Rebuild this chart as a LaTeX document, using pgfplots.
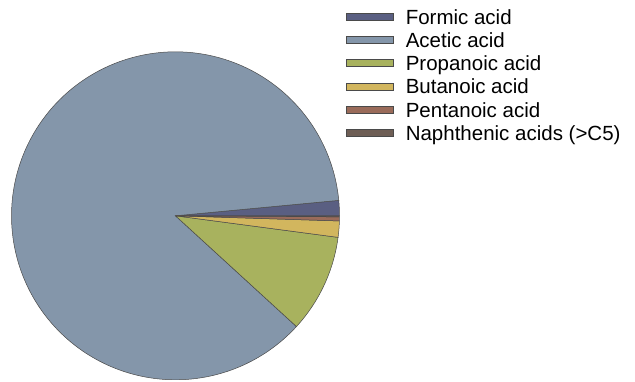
\documentclass[border=0pt]{standalone}
\usepackage{fontspec}
\setmainfont{Liberation Sans}
\usepackage{pgfplots}
\usepackage{pgfplotstable}
\pgfplotsset{compat=1.18}

% shares of the carboxylic acids, in percent
\pgfplotstableread{
acid share
Formic 1.5
Acetic 86.7
Propanoic 9.7
Butanoic 1.6
Pentanoic 0.4
Naphthenic 0.1
}\acidtable

\definecolor{cFormic}{HTML}{5A5F82}
\definecolor{cAcetic}{HTML}{8496AA}
\definecolor{cPropanoic}{HTML}{A8B25E}
\definecolor{cButanoic}{HTML}{D2B65E}
\definecolor{cPentanoic}{HTML}{9A6B5A}
\definecolor{cNaphthenic}{HTML}{6E5E55}
\definecolor{edge}{HTML}{4A4A4A}

% start and end angle of each slice, counterclockwise from 0 degrees
\def\cumangle{0}
\newcommand\sliceangles[2]{%
  \pgfplotstablegetelem{#1}{share}\of\acidtable
  \pgfmathsetmacro\tmpangle{\cumangle+3.6*\pgfplotsretval}%
  \expandafter\let\csname start#2\endcsname\cumangle
  \expandafter\let\csname end#2\endcsname\tmpangle
  \let\cumangle\tmpangle}
\sliceangles{0}{Formic}
\sliceangles{1}{Acetic}
\sliceangles{2}{Propanoic}
\sliceangles{3}{Butanoic}
\sliceangles{4}{Pentanoic}
\sliceangles{5}{Naphthenic}

\newcommand\lstrut{\rule[-1.5pt]{0pt}{17.5pt}}

\begin{document}
\begin{tikzpicture}
\useasboundingbox (0pt,0pt) rectangle (635pt,-381pt);
\begin{axis}[
  at={(175.5pt,-215.8pt)}, anchor=center,
  x=164pt, y=164pt,
  xmin=-1, xmax=1, ymin=-1, ymax=1,
  hide axis,
  slice/.style={draw=edge, line width=0.5pt, samples=60},
  legend image code/.code={
    \draw[#1, draw=edge, line width=0.8pt] (0pt,-3.5pt) rectangle (47pt,3.5pt);
  },
  legend style={
    at={(1.0213,1.1328)}, anchor=north west,
    draw=none, fill=none, inner sep=0pt, outer sep=0pt,
    row sep=5.7pt, column sep=11.5pt,
    nodes={inner sep=0pt, outer sep=0pt, anchor=west},
    font=\fontsize{20.5}{23}\selectfont,
  },
]
\addplot[slice, fill=cFormic, domain=\startFormic:\endFormic]
  ({cos(x)}, {sin(x)}) -- (axis cs:0,0) -- cycle;
\addlegendentry{\lstrut Formic acid}
\addplot[slice, fill=cAcetic, domain=\startAcetic:\endAcetic, samples=240]
  ({cos(x)}, {sin(x)}) -- (axis cs:0,0) -- cycle;
\addlegendentry{\lstrut Acetic acid}
\addplot[slice, fill=cPropanoic, domain=\startPropanoic:\endPropanoic]
  ({cos(x)}, {sin(x)}) -- (axis cs:0,0) -- cycle;
\addlegendentry{\lstrut Propanoic acid}
\addplot[slice, fill=cButanoic, domain=\startButanoic:\endButanoic]
  ({cos(x)}, {sin(x)}) -- (axis cs:0,0) -- cycle;
\addlegendentry{\lstrut Butanoic acid}
\addplot[slice, fill=cPentanoic, domain=\startPentanoic:\endPentanoic]
  ({cos(x)}, {sin(x)}) -- (axis cs:0,0) -- cycle;
\addlegendentry{\lstrut Pentanoic acid}
\addplot[slice, fill=cNaphthenic, domain=\startNaphthenic:\endNaphthenic]
  ({cos(x)}, {sin(x)}) -- (axis cs:0,0) -- cycle;
\addlegendentry{\lstrut Naphthenic acids (>C5)}
\end{axis}
\end{tikzpicture}
\end{document}
